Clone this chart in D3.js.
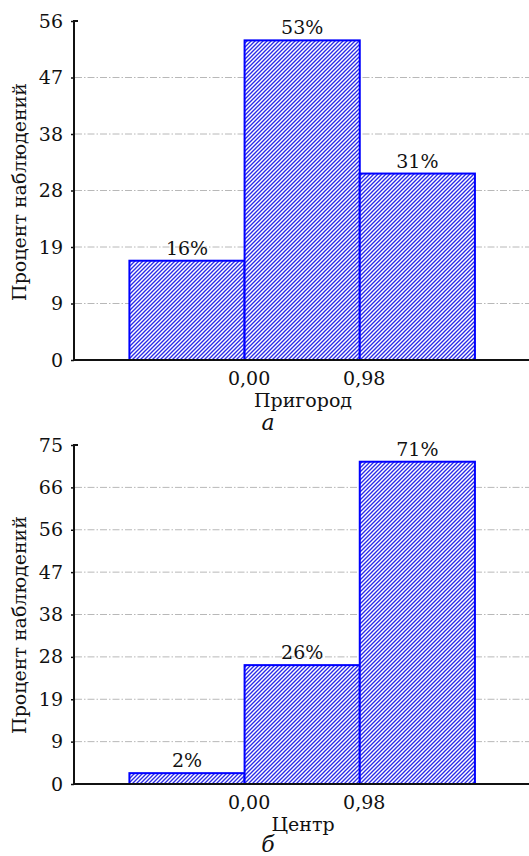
<!DOCTYPE html>
<html>
<head>
<meta charset="utf-8">
<script src="https://cdn.jsdelivr.net/npm/d3@7"></script>
<style>
  body { margin: 0; background: #fff; }
  text { font-family: "DejaVu Serif", serif; fill: #111; }
</style>
</head>
<body>
<div class="container"></div>
<script>
// histogram bins (edges) and tick labels
var binEdges = [-0.98, 0.00, 0.98, 1.96];
var xTickValues = [0.00, 0.98];
var xTickLabels = ["0,00", "0,98"];

// panel a - suburb
var suburbValues = [16.4, 52.8, 30.8];
var suburbLabels = ["16%", "53%", "31%"];
var suburbMax = 56;
var suburbTickLabels = ["0", "9", "19", "28", "38", "47", "56"];

// panel b - center
var centerValues = [2.4, 26.3, 71.3];
var centerLabels = ["2%", "26%", "71%"];
var centerMax = 75;
var centerTickLabels = ["0", "9", "19", "28", "38", "47", "56", "66", "75"];

var W = 529, H = 856;
var FS = 19;

var svg = d3.select(".container").append("svg")
  .attr("width", W).attr("height", H);

// hatch pattern, "/" stripes
var s = 4;
var pat = svg.append("defs").append("pattern")
  .attr("id", "hatch")
  .attr("patternUnits", "userSpaceOnUse")
  .attr("width", s).attr("height", s);
pat.append("rect").attr("width", s).attr("height", s).attr("fill", "#fff");
pat.append("path")
  .attr("d", "M0," + s + "L" + s + ",0M-1,1L1,-1M" + (s - 1) + "," + (s + 1) + "L" + (s + 1) + "," + (s - 1))
  .attr("stroke", "#2a2ae8").attr("stroke-width", 1.35);

var x = d3.scaleLinear().domain([-1.46, 2.42]).range([73, 529]);

function drawPanel(cfg) {
  var g = svg.append("g");
  var y = d3.scaleLinear().domain([0, cfg.max]).range([cfg.bottom, cfg.top]);
  var n = cfg.tickLabels.length - 1;
  var tickVals = d3.range(n + 1).map(function(i) { return i * cfg.max / n; });

  // grid lines
  g.selectAll("line.grid")
    .data(tickVals.slice(1, n))
    .enter().append("line")
    .attr("class", "grid")
    .attr("x1", 75).attr("x2", W)
    .attr("y1", function(d) { return y(d); })
    .attr("y2", function(d) { return y(d); })
    .attr("stroke", "#b8b8b8").attr("stroke-width", 1)
    .attr("stroke-dasharray", "7,2,1.5,2");

  // bars
  var bars = cfg.values.map(function(v, i) {
    return { x0: binEdges[i], x1: binEdges[i + 1], v: v, label: cfg.labels[i] };
  });
  g.selectAll("rect.bar")
    .data(bars)
    .enter().append("rect")
    .attr("class", "bar")
    .attr("x", function(d) { return x(d.x0); })
    .attr("width", function(d) { return x(d.x1) - x(d.x0); })
    .attr("y", function(d) { return y(d.v); })
    .attr("height", function(d) { return y(0) - y(d.v); })
    .attr("fill", "url(#hatch)")
    .attr("stroke", "#0000ff").attr("stroke-width", 2);

  g.selectAll("text.val")
    .data(bars)
    .enter().append("text")
    .attr("class", "val")
    .attr("x", function(d) { return (x(d.x0) + x(d.x1)) / 2; })
    .attr("y", function(d) { return y(d.v) - 6; })
    .attr("text-anchor", "middle")
    .attr("font-size", FS)
    .text(function(d) { return d.label; });

  // y axis
  var yAxis = d3.axisLeft(y)
    .tickValues(tickVals)
    .tickSize(3)
    .tickPadding(8)
    .tickFormat(function(d, i) { return cfg.tickLabels[i]; });
  var ya = g.append("g").attr("transform", "translate(74,0)").call(yAxis);
  ya.select(".domain").attr("stroke", "#111").attr("stroke-width", 2)
    .attr("d", "M4," + cfg.top + "H0V" + cfg.bottom);
  ya.selectAll(".tick line").attr("stroke", "#111").attr("stroke-width", 1.5);
  ya.selectAll(".tick text").attr("font-size", FS).attr("font-family", "DejaVu Serif").attr("fill", "#111");

  // x axis
  var xAxis = d3.axisBottom(x)
    .tickValues(xTickValues)
    .tickSize(0)
    .tickPadding(12)
    .tickFormat(function(d, i) { return xTickLabels[i]; });
  var xa = g.append("g").attr("transform", "translate(0," + cfg.bottom + ")").call(xAxis);
  xa.select(".domain").attr("stroke", "#111").attr("stroke-width", 2)
    .attr("d", "M73,0H" + W);
  xa.selectAll(".tick text").attr("font-size", FS).attr("font-family", "DejaVu Serif")
    .attr("fill", "#111").attr("dx", 4);

  // axis titles
  g.append("text")
    .attr("x", 303).attr("y", cfg.bottom + 47)
    .attr("text-anchor", "middle").attr("font-size", FS)
    .text(cfg.xTitle);
  g.append("text")
    .attr("transform", "translate(26," + cfg.yTitleY + ") rotate(-90)")
    .attr("text-anchor", "middle").attr("font-size", FS)
    .text("Процент наблюдений");
  g.append("text")
    .attr("x", 268).attr("y", cfg.letterY)
    .attr("text-anchor", "middle").attr("font-size", 22)
    .attr("font-style", "italic")
    .text(cfg.letter);
}

drawPanel({ values: suburbValues, labels: suburbLabels, max: suburbMax,
  tickLabels: suburbTickLabels, top: 21, bottom: 360,
  xTitle: "Пригород", yTitleY: 192, letter: "а", letterY: 430 });
drawPanel({ values: centerValues, labels: centerLabels, max: centerMax,
  tickLabels: centerTickLabels, top: 445, bottom: 784,
  xTitle: "Центр", yTitleY: 625, letter: "б", letterY: 852 });
</script>
</body>
</html>
